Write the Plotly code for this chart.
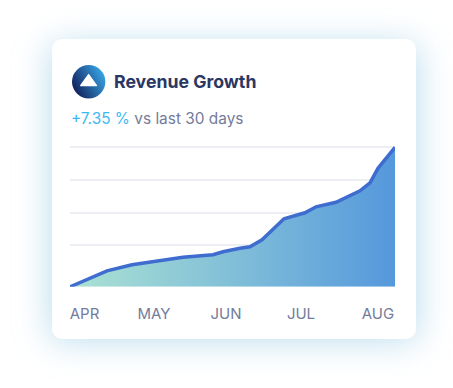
import base64
import plotly.graph_objects as go

W, H = 453, 388

# Data (x: position along the Apr-Aug axis, y: revenue index)
x_vals = [0, 37, 62, 113, 143, 153, 170, 180, 192, 214, 235, 246, 266, 290, 300, 308, 325]
y_vals = [0, 16, 22, 29.5, 32, 35, 38.5, 40, 47, 68, 74, 80, 84.5, 96, 104, 118.5, 139.5]
tick_pos = [14.5, 84, 156, 231, 308]
tick_labels = ["APR", "MAY", "JUN", "JUL", "AUG"]
grid_vals = [41.5, 74, 106.5, 139.5]

bg_svg = f'''<svg xmlns="http://www.w3.org/2000/svg" width="{W}" height="{H}" viewBox="0 0 {W} {H}">
<defs>
<filter id="b" x="-30%" y="-30%" width="160%" height="160%"><feGaussianBlur stdDeviation="17"/></filter>
<linearGradient id="g" x1="0" y1="0.85" x2="1" y2="0.3"><stop offset="0.1" stop-color="#12245f"/><stop offset="1" stop-color="#38a6e6"/></linearGradient>
</defs>
<rect x="50" y="44" width="368" height="297" rx="10" fill="#8fc6e4" fill-opacity="0.6" filter="url(#b)"/>
<rect x="52" y="39" width="364" height="300" rx="10" fill="#ffffff"/>
<circle cx="88.7" cy="81.7" r="16.7" fill="url(#g)"/>
<path d="M88.6 74.5 L96.6 85.6 L80.6 85.6 Z" fill="#fff" stroke="#fff" stroke-width="1.2" stroke-linejoin="round"/>
</svg>'''
bg_uri = "data:image/svg+xml;base64," + base64.b64encode(bg_svg.encode()).decode()

fig = go.Figure(
    go.Scatter(
        x=x_vals,
        y=y_vals,
        mode="lines",
        line=dict(color="#3f6dcf", width=3.5),
        fill="tozeroy",
        fillgradient=dict(
            type="horizontal",
            colorscale=[[0, "#abe2d3"], [0.5, "#81bfd8"], [1, "#5598dc"]],
        ),
        cliponaxis=False,
        hoverinfo="skip",
    )
)

fig.update_layout(
    width=W,
    height=H,
    margin=dict(l=0, r=0, t=0, b=0),
    paper_bgcolor="#ffffff",
    plot_bgcolor="rgba(0,0,0,0)",
    showlegend=False,
    xaxis=dict(
        domain=[70 / W, 395 / W],
        range=[0, 325],
        tickmode="array",
        tickvals=tick_pos,
        ticktext=tick_labels,
        showgrid=False,
        zeroline=False,
        showline=False,
        ticks="",
        ticklabelstandoff=16,
        tickfont=dict(family="Inter, sans-serif", size=15, color="#737c9b"),
    ),
    yaxis=dict(
        domain=[(H - 286.8) / H, (H - 142.3) / H],
        range=[0, 144.5],
        tickmode="array",
        tickvals=grid_vals,
        showticklabels=False,
        showgrid=True,
        gridcolor="#eeeef5",
        gridwidth=1.5,
        zeroline=False,
        showline=False,
        ticks="",
    ),
    images=[
        dict(
            source=bg_uri, xref="paper", yref="paper", x=0, y=1,
            sizex=1, sizey=1, xanchor="left", yanchor="top",
            sizing="stretch", layer="below",
        )
    ],
    annotations=[
        dict(
            text="<b>Revenue Growth</b>",
            xref="paper", yref="paper", x=112 / W, y=1 - 81.5 / H,
            xanchor="left", yanchor="middle", showarrow=False,
            font=dict(family="Inter, sans-serif", size=17.7, color="#2b3763"),
        ),
        dict(
            text='<span style="color:#3db8f2">+7.35 %</span> vs last 30 days',
            xref="paper", yref="paper", x=69 / W, y=1 - 118.5 / H,
            xanchor="left", yanchor="middle", showarrow=False,
            font=dict(family="Inter, sans-serif", size=15.4, color="#737c9b"),
        ),
    ],
)

fig.write_html(
    "out.html",
    config={"displayModeBar": False},
    post_script="document.body.style.margin='0';document.body.style.overflow='hidden';",
)
